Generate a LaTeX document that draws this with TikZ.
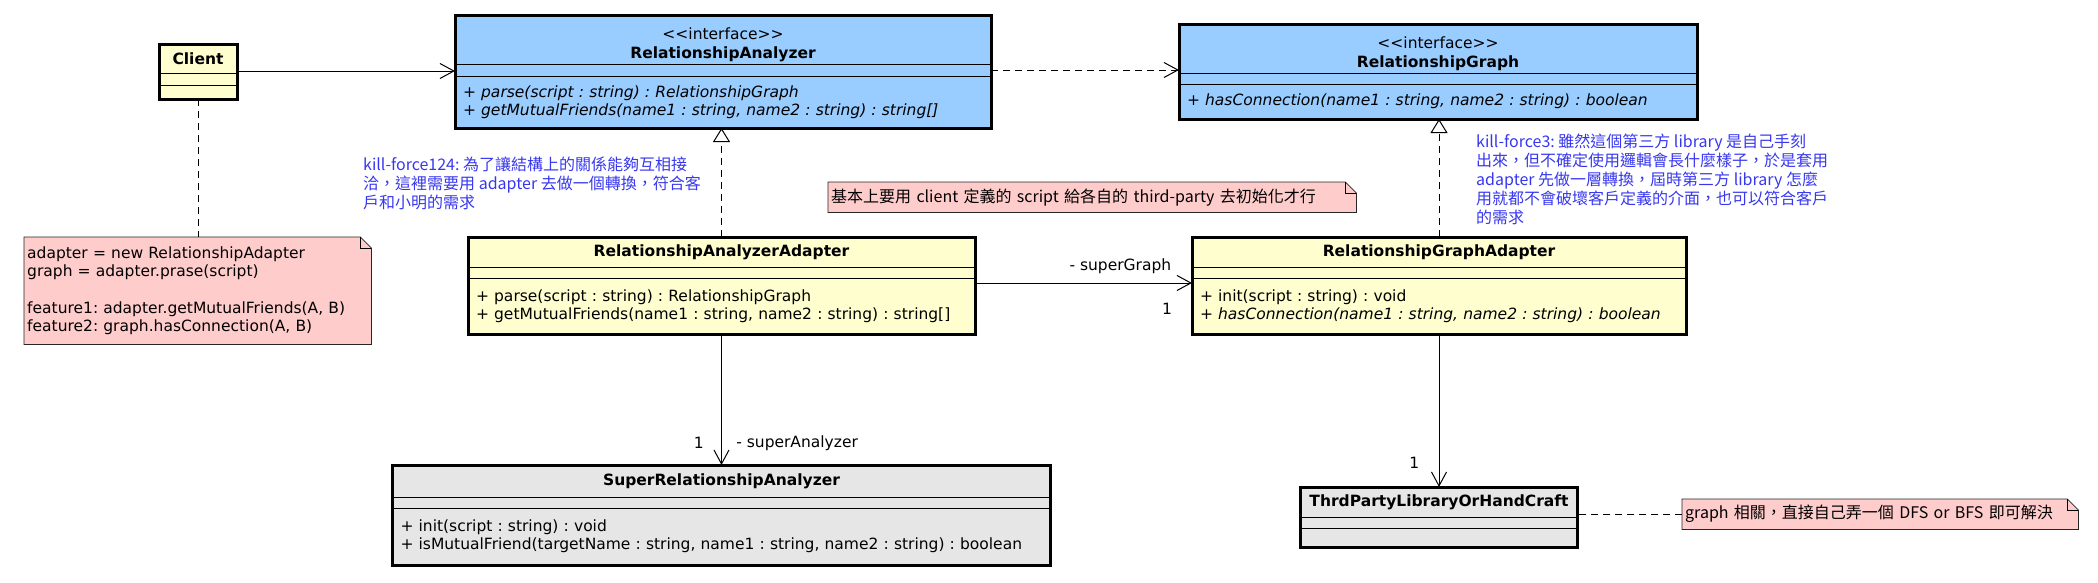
\documentclass[tikz,border=0pt]{standalone}
\usepackage{fontspec}
\setmainfont{DejaVu Sans}
\newfontfamily\cjk{Noto Sans CJK TC}
\usetikzlibrary{positioning,arrows.meta,backgrounds}
\frenchspacing

\definecolor{classyellow}{HTML}{FEFECE}
\definecolor{ifaceblue}{HTML}{99CCFF}
\definecolor{classgray}{HTML}{E6E6E6}
\definecolor{notepink}{HTML}{FFCCCC}
\definecolor{remarkblue}{RGB}{55,55,240}

\begin{document}
\begin{tikzpicture}[x=1pt,y=-1pt,
        font=\fontsize{15.5}{18}\selectfont,
        compart/.style={draw, line width=0.8pt, fill=#1, inner sep=0pt, outer sep=0pt},
        classhead/.style={compart=#1, align=center, anchor=north, font=\fontsize{15.5}{19}\selectfont},
        classmeth/.style={compart=#1, align=left, inner xsep=8pt},
        classtitle/.style={font=\fontsize{15.5}{19}\selectfont\bfseries},
        abstract/.style={font=\fontsize{15.5}{18}\selectfont\itshape},
        classframe/.style={line width=3pt},
        assoc/.style={line width=1pt, -{Straight Barb[length=14pt,width=15pt]}},
        realize/.style={line width=1pt, dash pattern=on 7pt off 5pt,
            -{Triangle[open,fill=white,length=14pt,width=17pt]}},
        notelink/.style={line width=1pt, dash pattern=on 7pt off 5pt},
        notebox/.style={inner xsep=3pt, inner ysep=0pt, align=left, anchor=north west},
        remark/.style={font=\cjk\fontsize{16}{19}\selectfont, text=remarkblue,
            align=left, anchor=north west, inner sep=0pt}]
    \useasboundingbox (0,0) rectangle (2098,582);

    % Client
    \node[classhead=classyellow, minimum width=78pt, minimum height=29pt, classtitle] (client-h) at (198,44) {Client};
    \node[compart=classyellow, minimum width=78pt, minimum height=12pt, below=0pt of client-h] (client-a) {};
    \node[compart=classyellow, minimum width=78pt, minimum height=14pt, below=0pt of client-a] (client-m) {};

    % interfaces
    \node[classhead=ifaceblue, minimum width=536pt, minimum height=49pt] (ana-h) at (723,15)
        {\rule{0pt}{22pt}<{}<interface>{}>\\\textbf{RelationshipAnalyzer}};
    \node[compart=ifaceblue, minimum width=536pt, minimum height=12pt, below=0pt of ana-h] (ana-a) {};
    \node[classmeth=ifaceblue, text width=520pt, minimum height=52pt, below=0pt of ana-a, abstract] (ana-m)
        {+ parse(script : string) : RelationshipGraph\\+ getMutualFriends(name1 : string, name2 : string) : string[]};

    \node[classhead=ifaceblue, minimum width=518pt, minimum height=49pt] (graph-h) at (1438,24)
        {\rule{0pt}{22pt}<{}<interface>{}>\\\textbf{RelationshipGraph}};
    \node[compart=ifaceblue, minimum width=518pt, minimum height=11pt, below=0pt of graph-h] (graph-a) {};
    \node[classmeth=ifaceblue, text width=502pt, minimum height=35pt, below=0pt of graph-a, abstract] (graph-m)
        {+ hasConnection(name1 : string, name2 : string) : boolean};

    % adapters
    \node[classhead=classyellow, minimum width=507pt, minimum height=30pt, classtitle] (anaad-h) at (721.5,237)
        {RelationshipAnalyzerAdapter};
    \node[compart=classyellow, minimum width=507pt, minimum height=11pt, below=0pt of anaad-h] (anaad-a) {};
    \node[classmeth=classyellow, text width=491pt, minimum height=56pt, below=0pt of anaad-a] (anaad-m)
        {+ parse(script : string) : RelationshipGraph\\+ getMutualFriends(name1 : string, name2 : string) : string[]};

    \node[classhead=classyellow, minimum width=494pt, minimum height=30pt, classtitle] (graphad-h) at (1439,237)
        {RelationshipGraphAdapter};
    \node[compart=classyellow, minimum width=494pt, minimum height=11pt, below=0pt of graphad-h] (graphad-a) {};
    \node[classmeth=classyellow, text width=478pt, minimum height=56pt, below=0pt of graphad-a] (graphad-m)
        {+ init(script : string) : void\\\textit{+ hasConnection(name1 : string, name2 : string) : boolean}};

    % adaptees
    \node[classhead=classgray, minimum width=658pt, minimum height=32pt, classtitle] (superana-h) at (721.5,465)
        {SuperRelationshipAnalyzer};
    \node[compart=classgray, minimum width=658pt, minimum height=11pt, below=0pt of superana-h] (superana-a) {};
    \node[classmeth=classgray, text width=642pt, minimum height=57pt, below=0pt of superana-a] (superana-m)
        {+ init(script : string) : void\\+ isMutualFriend(targetName : string, name1 : string, name2 : string) : boolean};

    \node[classhead=classgray, minimum width=277pt, minimum height=30pt, classtitle] (thirdparty-h) at (1439,487)
        {ThrdPartyLibraryOrHandCraft};
    \node[compart=classgray, minimum width=277pt, minimum height=11pt, below=0pt of thirdparty-h] (thirdparty-a) {};
    \node[compart=classgray, minimum width=277pt, minimum height=19pt, below=0pt of thirdparty-a] (thirdparty-m) {};

    \foreach \c in {client,ana,graph,anaad,graphad,superana,thirdparty}
        \draw[classframe] (\c-h.north west) rectangle (\c-m.south east);

    % notes and remarks
    \node[notebox, text width=341pt, minimum height=107pt] (client-note) at (24,237)
        {adapter = new RelationshipAdapter\\graph = adapter.prase(script)\\[19pt]feature1: adapter.getMutualFriends(A, B)\\feature2: graph.hasConnection(A, B)};
    \node[notebox, text width=522pt, minimum height=30pt, font=\cjk\fontsize{16}{19}\selectfont] (mid-note) at (828,182)
        {\mbox{基本上要用 client 定義的 script 給各自的 third-party 去初始化才行}};
    \node[notebox, text width=390pt, minimum height=30pt, font=\cjk\fontsize{16}{19}\selectfont] (graph-note) at (1682,499)
        {\mbox{graph 相關，直接自己弄一個 DFS or BFS 即可解決}};

    \begin{scope}[on background layer]
        \foreach \n in {client-note,mid-note,graph-note} {
            \filldraw[fill=notepink, draw=black!85, line width=0.8pt]
                (\n.south west) -- (\n.north west) -- ([xshift=-11pt]\n.north east)
                -- ([yshift=-11pt]\n.north east) -- (\n.south east) -- cycle;
            \draw[line width=0.8pt] ([xshift=-11pt]\n.north east) |- ([yshift=-11pt]\n.north east);
        }
    \end{scope}

    \node[remark] (ana-remark) at (363,157)
        {kill-force124: 為了讓結構上的關係能夠互相接\\洽，這裡需要用 adapter 去做一個轉換，符合客\\戶和小明的需求};
    \node[remark] (graph-remark) at (1476,134)
        {kill-force3: 雖然這個第三方 library 是自己手刻\\出來，但不確定使用邏輯會長什麼樣子，於是套用\\adapter 先做一層轉換，屆時第三方 library 怎麼\\用就都不會破壞客戶定義的介面，也可以符合客戶\\的需求};

    % connectors
    \draw[assoc] ([yshift=2pt]client-a.north east) -- ([yshift=2pt]client-a.north east -| ana-h.west);
    \draw[assoc, dash pattern=on 7pt off 5pt] (ana-a.east) -- (ana-a.east -| graph-h.west);
    \draw[realize] (anaad-h.north) -- (anaad-h.north |- ana-m.south);
    \draw[realize] (graphad-h.north) -- (graphad-h.north |- graph-m.south);
    \draw[assoc] ([yshift=-5pt]anaad-m.north east) -- ([yshift=-5pt]anaad-m.north east -| graphad-m.west)
        node[pos=0.67, above=5pt] {- superGraph}
        node[pos=0.885, below=16pt] {1};
    \draw[assoc] (anaad-m.south) -- (anaad-m.south |- superana-h.north)
        node[pos=0.83, left=14pt] {1}
        node[pos=0.83, right=11pt] {- superAnalyzer};
    \draw[assoc] (graphad-m.south) -- (graphad-m.south |- thirdparty-h.north)
        node[pos=0.84, left=16pt] {1};
    \draw[notelink] (client-m.south) -- (client-m.south |- client-note.north);
    \draw[notelink] (graph-note.west) -- (graph-note.west -| thirdparty-h.east);
\end{tikzpicture}
\end{document}
